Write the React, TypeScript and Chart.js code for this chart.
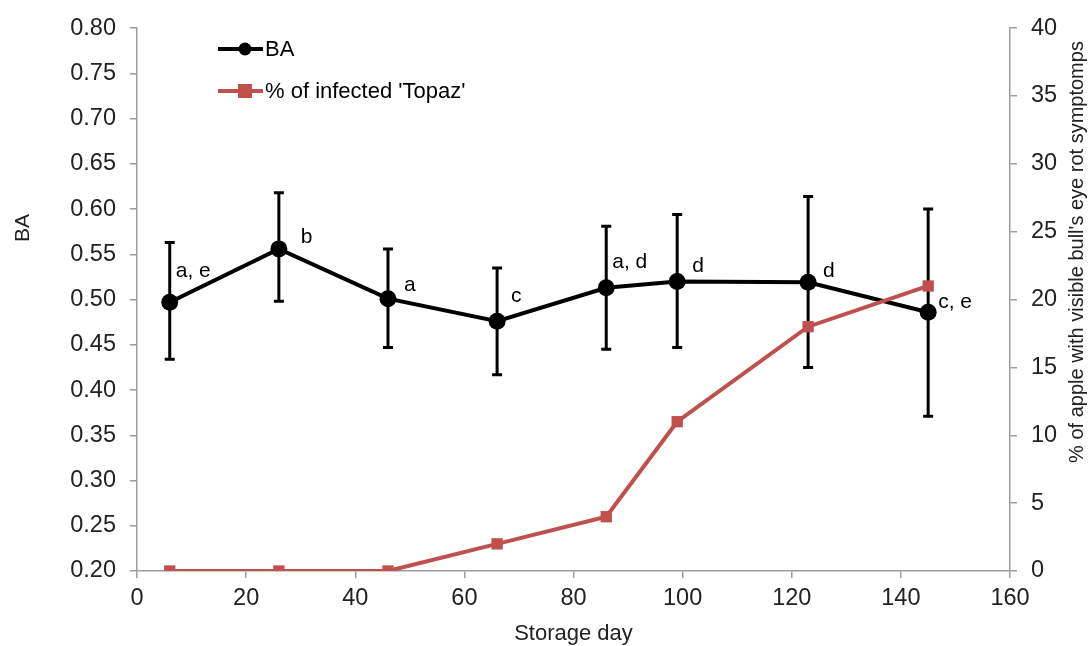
import React, { useEffect, useRef } from "react";
import { Chart, registerables } from "chart.js";

Chart.register(...registerables);

// ---- data ----
const storageDays = [6, 26, 46, 66, 86, 99, 123, 145];
const baValues = [0.497, 0.556, 0.501, 0.476, 0.513, 0.520, 0.519, 0.486];
const baErrTop = [0.563, 0.618, 0.556, 0.535, 0.581, 0.594, 0.614, 0.600];
const baErrBottom = [0.434, 0.498, 0.447, 0.417, 0.445, 0.447, 0.425, 0.371];
const infectedPct = [0, 0, 0, 2, 4, 11, 18, 21];
const baLetters = ["a, e", "b", "a", "c", "a, d", "d", "d", "c, e"];
const xTicks = [0, 20, 40, 60, 80, 100, 120, 140, 160];

const seriesNames = ["BA", "% of infected 'Topaz'"];
const axisTitles = {
  x: "Storage day",
  yLeft: "BA",
  yRight: "% of apple with visible bull's eye rot symptomps",
};

// ---- style ----
const FONT = "'Liberation Sans', Arial, sans-serif";
const AXIS_COLOR = "#9c9c9c";
const BLACK = "#000000";
const RED = "#C0504D";
// label offsets relative to point (style only)
const letterOffsets: [number, number][] = [
  [6, -31],
  [22, -12],
  [16, -13],
  [14, -25],
  [6, -26],
  [15, -15],
  [15, -11],
  [10, -10],
];

const overlayPlugin = {
  id: "overlay",
  beforeDatasetsDraw(chart: any) {
    const ctx = chart.ctx;
    const xs = chart.scales.x;
    const ys = chart.scales.y;
    ctx.save();
    ctx.strokeStyle = BLACK;
    ctx.lineWidth = 3;
    storageDays.forEach((d, i) => {
      const px = xs.getPixelForValue(d);
      const top = ys.getPixelForValue(baErrTop[i]);
      const bot = ys.getPixelForValue(baErrBottom[i]);
      ctx.beginPath();
      ctx.moveTo(px, top);
      ctx.lineTo(px, bot);
      ctx.moveTo(px - 5, top);
      ctx.lineTo(px + 5, top);
      ctx.moveTo(px - 5, bot);
      ctx.lineTo(px + 5, bot);
      ctx.stroke();
    });
    ctx.restore();
  },
  afterDatasetsDraw(chart: any) {
    const ctx = chart.ctx;
    const xs = chart.scales.x;
    const ys = chart.scales.y;
    const area = chart.chartArea;
    ctx.save();
    // letters
    ctx.fillStyle = BLACK;
    ctx.font = `21px ${FONT}`;
    ctx.textAlign = "left";
    ctx.textBaseline = "middle";
    storageDays.forEach((d, i) => {
      const px = xs.getPixelForValue(d);
      const py = ys.getPixelForValue(baValues[i]);
      const [dx, dy] = letterOffsets[i];
      ctx.fillText(baLetters[i], px + dx, py + dy);
    });

    // legend
    const lx0 = 218;
    const lx1 = 263;
    const rows = [49, 91];
    ctx.lineWidth = 4;
    ctx.strokeStyle = BLACK;
    ctx.beginPath();
    ctx.moveTo(lx0, rows[0]);
    ctx.lineTo(lx1, rows[0]);
    ctx.stroke();
    ctx.fillStyle = BLACK;
    ctx.beginPath();
    ctx.arc(245, rows[0], 6.5, 0, Math.PI * 2);
    ctx.fill();
    ctx.strokeStyle = RED;
    ctx.beginPath();
    ctx.moveTo(lx0, rows[1]);
    ctx.lineTo(lx1, rows[1]);
    ctx.stroke();
    ctx.fillStyle = RED;
    ctx.fillRect(245 - 7, rows[1] - 7, 14, 14);
    ctx.fillStyle = BLACK;
    ctx.font = `22px ${FONT}`;
    ctx.fillText(seriesNames[0], 265, rows[0] + 1);
    ctx.fillText(seriesNames[1], 265, rows[1] + 1);

    // axis titles
    ctx.fillStyle = "#222";
    ctx.font = `22px ${FONT}`;
    ctx.textAlign = "center";
    ctx.fillText(axisTitles.x, (area.left + area.right) / 2, 634);

    ctx.save();
    ctx.translate(23, 228);
    ctx.rotate(-Math.PI / 2);
    ctx.font = `21px ${FONT}`;
    ctx.fillText(axisTitles.yLeft, 0, 0);
    ctx.restore();

    ctx.save();
    ctx.translate(1077, 252);
    ctx.rotate(-Math.PI / 2);
    ctx.font = `20px ${FONT}`;
    ctx.fillText(axisTitles.yRight, 0, 0);
    ctx.restore();

    ctx.restore();
  },
};

export default function App() {
  const ref = useRef<HTMLCanvasElement | null>(null);
  useEffect(() => {
    document.body.style.margin = "0";
    const canvas = ref.current!;
    const tickFont = { family: FONT, size: 23.5 };
    const gridOpts = {
      drawOnChartArea: false,
      drawTicks: true,
      tickLength: 7,
      color: AXIS_COLOR,
      lineWidth: 1.5,
    };
    const borderOpts = { display: true, color: AXIS_COLOR, width: 1.5 };
    const chart = new Chart(canvas, {
      type: "line",
      data: {
        datasets: [
          {
            label: seriesNames[0],
            data: storageDays.map((d, i) => ({ x: d, y: baValues[i] })),
            yAxisID: "y",
            borderColor: BLACK,
            backgroundColor: BLACK,
            borderWidth: 4,
            pointRadius: 8.5,
            pointStyle: "circle",
            pointBorderWidth: 0,
            order: 1,
          },
          {
            label: seriesNames[1],
            data: storageDays.map((d, i) => ({ x: d, y: infectedPct[i] })),
            yAxisID: "y1",
            borderColor: RED,
            backgroundColor: RED,
            borderWidth: 4,
            pointRadius: 8,
            pointStyle: "rect",
            pointBorderWidth: 0,
            order: 0,
          },
        ],
      },
      options: {
        responsive: false,
        animation: false,
        layout: { padding: { top: 28, left: 0, right: 0, bottom: 0 } },
        plugins: { legend: { display: false }, tooltip: { enabled: false } },
        scales: {
          x: {
            type: "linear",
            min: 0,
            max: 160,
            afterBuildTicks: (s: any) => {
              s.ticks = xTicks.map((v) => ({ value: v }));
            },
            afterFit: (s: any) => {
              s.height = 75;
            },
            ticks: { font: tickFont, color: "#222", padding: 6, maxRotation: 0 },
            grid: gridOpts,
            border: borderOpts,
          },
          y: {
            position: "left",
            min: 0.2,
            max: 0.8,
            ticks: {
              stepSize: 0.05,
              font: tickFont,
              color: "#222",
              padding: 14,
              callback: (v: any) => Number(v).toFixed(2),
            },
            afterFit: (s: any) => {
              s.width = 137;
            },
            grid: gridOpts,
            border: borderOpts,
          },
          y1: {
            position: "right",
            min: 0,
            max: 40,
            ticks: { stepSize: 5, font: tickFont, color: "#222", padding: 14 },
            afterFit: (s: any) => {
              s.width = 82;
            },
            grid: gridOpts,
            border: borderOpts,
          },
        },
      },
      plugins: [overlayPlugin],
    } as any);
    return () => chart.destroy();
  }, []);
  return (
    <div style={{ width: 1092, height: 646, background: "#fff" }}>
      <canvas ref={ref} width={1092} height={646} style={{ display: "block" }} />
    </div>
  );
}
